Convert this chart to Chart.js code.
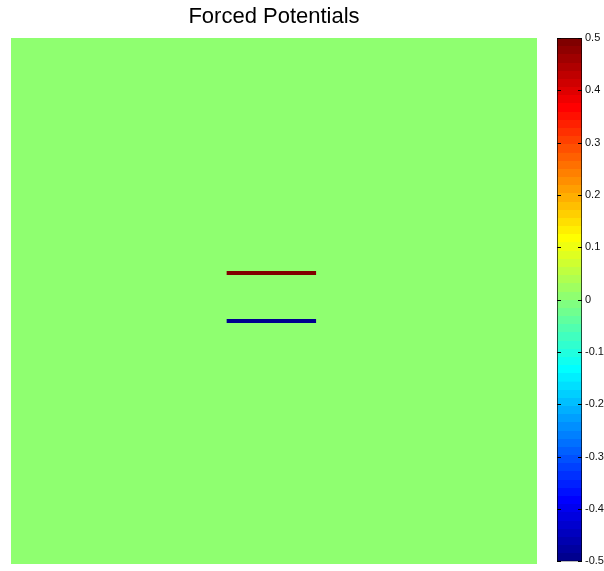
<!DOCTYPE html>
<html>
<head>
<meta charset="utf-8">
<script src="https://cdn.jsdelivr.net/npm/chart.js@4.4.1/dist/chart.umd.min.js"></script>
<style>
    html, body { margin: 0; padding: 0; background: #fff; }
    #wrap { position: relative; width: 604px; height: 571px; }
    #mainChart { position: absolute; left: 0; top: 0; }
    #barChart { position: absolute; left: 540px; top: 0; }
</style>
</head>
<body>
<div id="wrap">
    <canvas id="mainChart" width="548" height="571"></canvas>
    <canvas id="barChart" width="64" height="571"></canvas>
</div>
<script>
// field domain and values
const fieldValue = 0;
const colorRange = [-0.5, 0.5];
const colorbarTicks = [-0.5, -0.4, -0.3, -0.2, -0.1, 0, 0.1, 0.2, 0.3, 0.4, 0.5];

// electrodes: x extent, y position, potential
const electrodeX = [0.41, 0.58];
const electrodeY = [0.553, 0.462];
const electrodeV = [0.5, -0.5];

// MATLAB style jet(64)
function jetMap(m) {
    const n = Math.ceil(m / 4);
    const u = [];
    for (let i = 1; i <= n; i++) u.push(i / n);
    for (let i = 1; i < n; i++) u.push(1);
    for (let i = n; i >= 1; i--) u.push(i / n);
    const off = Math.ceil(n / 2) - (m % 4 === 1 ? 1 : 0);
    const map = [];
    for (let i = 0; i < m; i++) map.push([0, 0, 0]);
    u.forEach((v, k) => {
        const g = off + k + 1, r = g + n, b = g - n;
        if (g >= 1 && g <= m) map[g - 1][1] = v;
        if (r >= 1 && r <= m) map[r - 1][0] = v;
        if (b >= 1 && b <= m) map[b - 1][2] = v;
    });
    return map.map(c => 'rgb(' + c.map(x => Math.round(x * 255)).join(',') + ')');
}
const jet = jetMap(64);

function colorFor(v) {
    const t = (v - colorRange[0]) / (colorRange[1] - colorRange[0]);
    const idx = Math.min(63, Math.max(0, Math.floor(t * 64)));
    return jet[idx];
}

const fieldBg = {
    id: 'fieldBg',
    beforeDatasetsDraw(chart) {
        const a = chart.chartArea, ctx = chart.ctx;
        ctx.save();
        ctx.fillStyle = colorFor(fieldValue);
        ctx.fillRect(a.left, a.top, a.right - a.left, a.bottom - a.top);
        ctx.restore();
    }
};

new Chart(document.getElementById('mainChart'), {
    type: 'scatter',
    data: {
        datasets: electrodeY.map((y, i) => ({
            data: [{ x: electrodeX[0], y: y }, { x: electrodeX[1], y: y }],
            showLine: true,
            borderColor: colorFor(electrodeV[i]),
            borderWidth: 4,
            borderCapStyle: 'butt',
            pointRadius: 0
        }))
    },
    options: {
        responsive: false,
        animation: false,
        layout: { padding: { left: 11, right: 11, top: 0, bottom: 7 } },
        plugins: {
            legend: { display: false },
            tooltip: { enabled: false },
            title: {
                display: true,
                text: 'Forced Potentials',
                color: '#000',
                font: { family: 'Liberation Sans, Arial, sans-serif', size: 22, weight: 'normal' },
                padding: { top: 4, bottom: 7.6 }
            }
        },
        scales: {
            x: { display: false, min: 0, max: 1 },
            y: { display: false, min: 0, max: 1 }
        }
    },
    plugins: [fieldBg]
});

const innerTicks = {
    id: 'innerTicks',
    afterDraw(chart) {
        const a = chart.chartArea, ctx = chart.ctx, y = chart.scales.y;
        ctx.save();
        ctx.strokeStyle = '#000';
        ctx.lineWidth = 1;
        colorbarTicks.forEach(v => {
            const py = Math.round(y.getPixelForValue(v)) + 0.5;
            ctx.beginPath();
            ctx.moveTo(a.left, py); ctx.lineTo(a.left + 4, py);
            ctx.moveTo(a.right - 4, py); ctx.lineTo(a.right, py);
            ctx.stroke();
        });
        ctx.restore();
    }
};

new Chart(document.getElementById('barChart'), {
    type: 'bar',
    data: {
        labels: [''],
        datasets: [{
            data: [[colorRange[0], colorRange[1]]],
            backgroundColor(ctx) {
                const chart = ctx.chart;
                if (!chart.chartArea) return null;
                const y = chart.scales.y;
                const y0 = y.getPixelForValue(colorRange[0]);
                const y1 = y.getPixelForValue(colorRange[1]);
                const g = chart.ctx.createLinearGradient(0, y0, 0, y1);
                jet.forEach((c, i) => {
                    g.addColorStop(i / 64, c);
                    g.addColorStop((i + 1) / 64 - 0.0001, c);
                });
                return g;
            },
            borderColor: '#000',
            borderWidth: 1,
            borderSkipped: false,
            barPercentage: 1,
            categoryPercentage: 1
        }]
    },
    options: {
        responsive: false,
        animation: false,
        layout: { padding: { left: 17, right: 0, top: 38, bottom: 8 } },
        plugins: { legend: { display: false }, tooltip: { enabled: false } },
        scales: {
            x: { display: false },
            y: {
                position: 'right',
                min: colorRange[0],
                max: colorRange[1],
                afterFit(s) { s.width = 22; },
                afterBuildTicks(s) { s.ticks = colorbarTicks.map(v => ({ value: v })); },
                grid: { display: false, drawTicks: false },
                border: { display: false },
                ticks: {
                    padding: 3,
                    color: '#111',
                    font: { family: 'Liberation Sans, Arial, sans-serif', size: 11 },
                    callback: v => (Math.abs(v) < 1e-9 ? '0' : Number(v).toFixed(1))
                }
            }
        }
    },
    plugins: [innerTicks]
});
</script>
</body>
</html>
